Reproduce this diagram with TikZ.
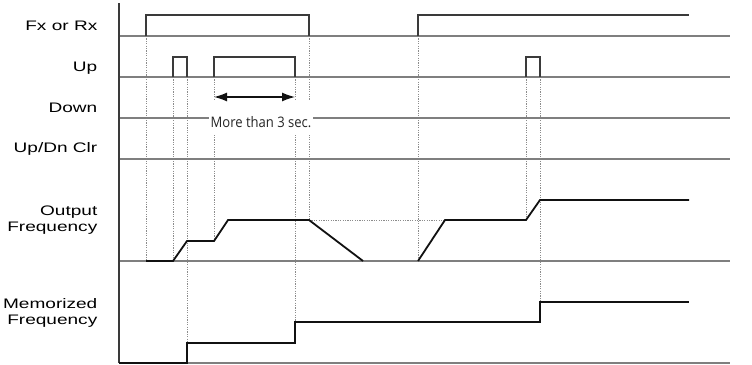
\documentclass[tikz,border=0pt]{standalone}
\usepackage{fontspec}
\setmainfont{Liberation Sans}
\newfontfamily\sigfont{Liberation Sans}[FakeStretch=1.38]
\newfontfamily\notefont{Open Sans}[FakeStretch=0.9]
\usetikzlibrary{arrows.meta}
\definecolor{RailGray}{HTML}{7F7F7F}
\definecolor{PulseDark}{HTML}{3A3A3A}
\definecolor{GuideGray}{HTML}{8C8C8C}
\definecolor{FreqBlack}{HTML}{111111}

\begin{document}
\begin{tikzpicture}[x=1pt,y=-1pt,>=Latex,
  rail/.style={RailGray,line width=1.3pt},
  pulse/.style={PulseDark,line width=1.2pt},
  freq/.style={FreqBlack,line width=1.8pt},
  guide/.style={GuideGray,line width=0.6pt,dash pattern=on 1.2pt off 1.2pt},
  siglabel/.style={font=\sigfont\fontsize{13.8}{16.3}\selectfont,align=right,anchor=base east,inner sep=0pt}]
\useasboundingbox (0,0) rectangle (752,364);
\foreach \tx/\ya/\yb in {146/36/261,173/77/261,187/77/343,214/77/241,295/77/322,309/36/220,418/36/261,526/77/220,540/77/302}
  \draw[guide] (\tx,\ya) -- (\tx,\yb);
\draw[guide] (309,220) -- (445,220);
\foreach \ry in {36,77,118,159,261,363}
  \draw[rail] (119,\ry) -- (730,\ry);
\draw[pulse] (119,3) -- (119,363);
\node[siglabel] (lblfx) at (97.5,30) {Fx or Rx};
\node[siglabel] (lblup) at (97.5,71) {Up};
\node[siglabel] (lbldown) at (97.5,112) {Down};
\node[siglabel] (lblclr) at (97.5,152) {Up/Dn Clr};
\node[siglabel,anchor=east] (lblout) at (97.5,220) {Output\\Frequency};
\node[siglabel,anchor=east] (lblmem) at (97.5,313) {Memorized\\Frequency};
\node[fill=white,text=black!85,inner xsep=2pt,inner ysep=0pt,text height=27pt,text depth=8pt,anchor=base,font=\notefont\fontsize{14.5}{16}\selectfont] (holdnote) at (261,127) {More than 3 sec.};
\coordinate (holdstart) at (214,97);
\coordinate (holdend) at (295,97);
\draw[FreqBlack,line width=1.3pt,{Latex[length=13pt,width=9pt]}-{Latex[length=13pt,width=9pt]}] (holdstart) -- (holdend);
\draw[pulse] (146,36) -- (146,15) -- (309,15) -- (309,36);
\draw[pulse] (418,36) -- (418,15) -- (689,15);
\foreach \ua/\ub in {173/187,214/295,526/540}
  \draw[pulse] (\ua,77) -- (\ua,57) -- (\ub,57) -- (\ub,77);
\draw[freq] (146,261) -- (173,261) -- (187,241) -- (214,241) -- (228,220) -- (309,220) -- (363,261);
\draw[freq] (418,261) -- (445,220) -- (526,220) -- (540,200) -- (689,200);
\draw[freq] (119,363) -- (187,363) -- (187,343) -- (295,343) -- (295,322) -- (540,322) -- (540,302) -- (689,302);
\end{tikzpicture}
\end{document}
